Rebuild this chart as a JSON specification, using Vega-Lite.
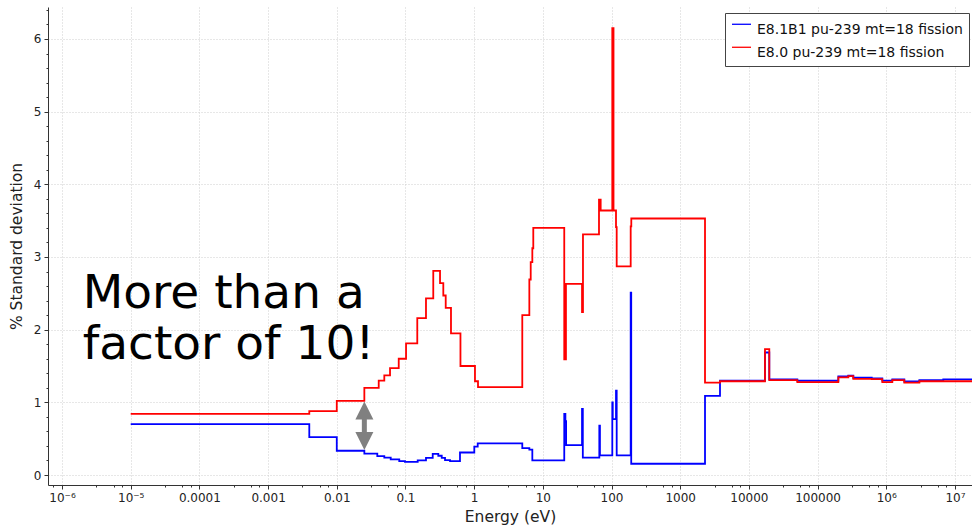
{
  "$schema": "https://vega.github.io/schema/vega-lite/v6.json",
  "width": 924,
  "height": 478,
  "autosize": {"type": "none"},
  "padding": {"left": 48, "top": 7, "right": 0, "bottom": 43},
  "background": "white",
  "config": {"view": {"stroke": null}, "font": "DejaVu Sans"},
  "datasets": {
    "lines": [
      {"E": 1e-5, "v": 0.70, "s": "E8.1B1 pu-239 mt=18 fission"},
      {"E": 0.00398, "v": 0.52, "s": "E8.1B1 pu-239 mt=18 fission"},
      {"E": 0.01, "v": 0.334, "s": "E8.1B1 pu-239 mt=18 fission"},
      {"E": 0.0252, "v": 0.293, "s": "E8.1B1 pu-239 mt=18 fission"},
      {"E": 0.0389, "v": 0.26, "s": "E8.1B1 pu-239 mt=18 fission"},
      {"E": 0.0492, "v": 0.24, "s": "E8.1B1 pu-239 mt=18 fission"},
      {"E": 0.061, "v": 0.215, "s": "E8.1B1 pu-239 mt=18 fission"},
      {"E": 0.0812, "v": 0.19, "s": "E8.1B1 pu-239 mt=18 fission"},
      {"E": 0.0984, "v": 0.18, "s": "E8.1B1 pu-239 mt=18 fission"},
      {"E": 0.1507, "v": 0.20, "s": "E8.1B1 pu-239 mt=18 fission"},
      {"E": 0.199, "v": 0.235, "s": "E8.1B1 pu-239 mt=18 fission"},
      {"E": 0.2494, "v": 0.29, "s": "E8.1B1 pu-239 mt=18 fission"},
      {"E": 0.3006, "v": 0.265, "s": "E8.1B1 pu-239 mt=18 fission"},
      {"E": 0.3373, "v": 0.235, "s": "E8.1B1 pu-239 mt=18 fission"},
      {"E": 0.3767, "v": 0.205, "s": "E8.1B1 pu-239 mt=18 fission"},
      {"E": 0.4457, "v": 0.19, "s": "E8.1B1 pu-239 mt=18 fission"},
      {"E": 0.622, "v": 0.31, "s": "E8.1B1 pu-239 mt=18 fission"},
      {"E": 1.005, "v": 0.39, "s": "E8.1B1 pu-239 mt=18 fission"},
      {"E": 1.127, "v": 0.435, "s": "E8.1B1 pu-239 mt=18 fission"},
      {"E": 5.02, "v": 0.37, "s": "E8.1B1 pu-239 mt=18 fission"},
      {"E": 6.36, "v": 0.35, "s": "E8.1B1 pu-239 mt=18 fission"},
      {"E": 7.03, "v": 0.20, "s": "E8.1B1 pu-239 mt=18 fission"},
      {"E": 20.5, "v": 0.84, "s": "E8.1B1 pu-239 mt=18 fission"},
      {"E": 21.3, "v": 0.74, "s": "E8.1B1 pu-239 mt=18 fission"},
      {"E": 21.8, "v": 0.41, "s": "E8.1B1 pu-239 mt=18 fission"},
      {"E": 37.2, "v": 0.91, "s": "E8.1B1 pu-239 mt=18 fission"},
      {"E": 38.2, "v": 0.24, "s": "E8.1B1 pu-239 mt=18 fission"},
      {"E": 66.4, "v": 0.68, "s": "E8.1B1 pu-239 mt=18 fission"},
      {"E": 67.8, "v": 0.27, "s": "E8.1B1 pu-239 mt=18 fission"},
      {"E": 102.6, "v": 1.00, "s": "E8.1B1 pu-239 mt=18 fission"},
      {"E": 104.2, "v": 0.77, "s": "E8.1B1 pu-239 mt=18 fission"},
      {"E": 116.2, "v": 1.16, "s": "E8.1B1 pu-239 mt=18 fission"},
      {"E": 118.9, "v": 0.27, "s": "E8.1B1 pu-239 mt=18 fission"},
      {"E": 190.1, "v": 2.51, "s": "E8.1B1 pu-239 mt=18 fission"},
      {"E": 193.5, "v": 0.155, "s": "E8.1B1 pu-239 mt=18 fission"},
      {"E": 2296, "v": 1.09, "s": "E8.1B1 pu-239 mt=18 fission"},
      {"E": 3795, "v": 1.297, "s": "E8.1B1 pu-239 mt=18 fission"},
      {"E": 17140, "v": 1.686, "s": "E8.1B1 pu-239 mt=18 fission"},
      {"E": 19810, "v": 1.315, "s": "E8.1B1 pu-239 mt=18 fission"},
      {"E": 50700, "v": 1.297, "s": "E8.1B1 pu-239 mt=18 fission"},
      {"E": 200400, "v": 1.356, "s": "E8.1B1 pu-239 mt=18 fission"},
      {"E": 280000, "v": 1.366, "s": "E8.1B1 pu-239 mt=18 fission"},
      {"E": 331000, "v": 1.338, "s": "E8.1B1 pu-239 mt=18 fission"},
      {"E": 614000, "v": 1.329, "s": "E8.1B1 pu-239 mt=18 fission"},
      {"E": 875000, "v": 1.30, "s": "E8.1B1 pu-239 mt=18 fission"},
      {"E": 1224000, "v": 1.315, "s": "E8.1B1 pu-239 mt=18 fission"},
      {"E": 1830000, "v": 1.287, "s": "E8.1B1 pu-239 mt=18 fission"},
      {"E": 3030000, "v": 1.306, "s": "E8.1B1 pu-239 mt=18 fission"},
      {"E": 6760000, "v": 1.315, "s": "E8.1B1 pu-239 mt=18 fission"},
      {"E": 20000000, "v": 1.315, "s": "E8.1B1 pu-239 mt=18 fission"},
      {"E": 1e-5, "v": 0.84, "s": "E8.0 pu-239 mt=18 fission"},
      {"E": 0.00398, "v": 0.88, "s": "E8.0 pu-239 mt=18 fission"},
      {"E": 0.01, "v": 1.02, "s": "E8.0 pu-239 mt=18 fission"},
      {"E": 0.0252, "v": 1.20, "s": "E8.0 pu-239 mt=18 fission"},
      {"E": 0.0408, "v": 1.30, "s": "E8.0 pu-239 mt=18 fission"},
      {"E": 0.0492, "v": 1.37, "s": "E8.0 pu-239 mt=18 fission"},
      {"E": 0.0596, "v": 1.47, "s": "E8.0 pu-239 mt=18 fission"},
      {"E": 0.0798, "v": 1.60, "s": "E8.0 pu-239 mt=18 fission"},
      {"E": 0.102, "v": 1.81, "s": "E8.0 pu-239 mt=18 fission"},
      {"E": 0.1486, "v": 2.16, "s": "E8.0 pu-239 mt=18 fission"},
      {"E": 0.199, "v": 2.43, "s": "E8.0 pu-239 mt=18 fission"},
      {"E": 0.254, "v": 2.81, "s": "E8.0 pu-239 mt=18 fission"},
      {"E": 0.3186, "v": 2.64, "s": "E8.0 pu-239 mt=18 fission"},
      {"E": 0.3556, "v": 2.47, "s": "E8.0 pu-239 mt=18 fission"},
      {"E": 0.3855, "v": 2.30, "s": "E8.0 pu-239 mt=18 fission"},
      {"E": 0.46, "v": 1.95, "s": "E8.0 pu-239 mt=18 fission"},
      {"E": 0.632, "v": 1.50, "s": "E8.0 pu-239 mt=18 fission"},
      {"E": 1.028, "v": 1.29, "s": "E8.0 pu-239 mt=18 fission"},
      {"E": 1.138, "v": 1.21, "s": "E8.0 pu-239 mt=18 fission"},
      {"E": 5.02, "v": 2.20, "s": "E8.0 pu-239 mt=18 fission"},
      {"E": 6.36, "v": 2.69, "s": "E8.0 pu-239 mt=18 fission"},
      {"E": 6.66, "v": 2.93, "s": "E8.0 pu-239 mt=18 fission"},
      {"E": 7.03, "v": 3.12, "s": "E8.0 pu-239 mt=18 fission"},
      {"E": 7.26, "v": 3.40, "s": "E8.0 pu-239 mt=18 fission"},
      {"E": 20.5, "v": 1.59, "s": "E8.0 pu-239 mt=18 fission"},
      {"E": 21.7, "v": 2.63, "s": "E8.0 pu-239 mt=18 fission"},
      {"E": 37.2, "v": 2.24, "s": "E8.0 pu-239 mt=18 fission"},
      {"E": 38.4, "v": 3.31, "s": "E8.0 pu-239 mt=18 fission"},
      {"E": 65.7, "v": 3.79, "s": "E8.0 pu-239 mt=18 fission"},
      {"E": 69.5, "v": 3.64, "s": "E8.0 pu-239 mt=18 fission"},
      {"E": 102.6, "v": 6.15, "s": "E8.0 pu-239 mt=18 fission"},
      {"E": 106.9, "v": 3.64, "s": "E8.0 pu-239 mt=18 fission"},
      {"E": 116.2, "v": 3.41, "s": "E8.0 pu-239 mt=18 fission"},
      {"E": 118.9, "v": 2.87, "s": "E8.0 pu-239 mt=18 fission"},
      {"E": 190.1, "v": 3.42, "s": "E8.0 pu-239 mt=18 fission"},
      {"E": 194, "v": 3.53, "s": "E8.0 pu-239 mt=18 fission"},
      {"E": 2296, "v": 1.27, "s": "E8.0 pu-239 mt=18 fission"},
      {"E": 3795, "v": 1.29, "s": "E8.0 pu-239 mt=18 fission"},
      {"E": 17140, "v": 1.733, "s": "E8.0 pu-239 mt=18 fission"},
      {"E": 19810, "v": 1.306, "s": "E8.0 pu-239 mt=18 fission"},
      {"E": 50700, "v": 1.279, "s": "E8.0 pu-239 mt=18 fission"},
      {"E": 200400, "v": 1.343, "s": "E8.0 pu-239 mt=18 fission"},
      {"E": 280000, "v": 1.36, "s": "E8.0 pu-239 mt=18 fission"},
      {"E": 331000, "v": 1.324, "s": "E8.0 pu-239 mt=18 fission"},
      {"E": 614000, "v": 1.32, "s": "E8.0 pu-239 mt=18 fission"},
      {"E": 875000, "v": 1.279, "s": "E8.0 pu-239 mt=18 fission"},
      {"E": 1224000, "v": 1.306, "s": "E8.0 pu-239 mt=18 fission"},
      {"E": 1830000, "v": 1.27, "s": "E8.0 pu-239 mt=18 fission"},
      {"E": 3030000, "v": 1.29, "s": "E8.0 pu-239 mt=18 fission"},
      {"E": 6760000, "v": 1.29, "s": "E8.0 pu-239 mt=18 fission"},
      {"E": 20000000, "v": 1.29, "s": "E8.0 pu-239 mt=18 fission"}
    ],
    "arrowShaft": [{"E": 0.0252, "v1": 0.47, "v2": 0.886}],
    "arrowHeads": [{"E": 0.0252, "v": 0.886, "dir": "up"}, {"E": 0.0252, "v": 0.469, "dir": "down"}],
    "note": [{"E": 2.0e-6, "v": 2.30, "t": "More than a\nfactor of 10!"}]
  },
  "layer": [
    {
      "data": {"name": "lines"},
      "mark": {"type": "line", "interpolate": "step-after", "strokeWidth": 1.8, "clip": true},
      "encoding": {
        "x": {
          "field": "E", "type": "quantitative",
          "scale": {"type": "log", "domain": [6.25e-7, 1.77e7], "nice": false},
          "axis": {
            "title": "Energy (eV)",
            "tickCount": 200,
            "values": [7.4989e-7, 1e-6, 3.1623e-6, 5.6234e-6, 7.4989e-6, 1e-5, 3.1623e-5, 5.6234e-5, 7.4989e-5, 1e-4, 3.1623e-4, 5.6234e-4, 7.4989e-4, 1e-3, 3.1623e-3, 5.6234e-3, 7.4989e-3, 0.01, 0.031623, 0.056234, 0.074989, 0.1, 0.31623, 0.56234, 0.74989, 1, 3.1623, 5.6234, 7.4989, 10, 31.623, 56.234, 74.989, 100, 316.23, 562.34, 749.89, 1000, 3162.3, 5623.4, 7498.9, 10000, 31623, 56234, 74989, 100000, 316230, 562340, 749890, 1000000, 3162300, 5623400, 7498900, 10000000],
            "labelExpr": "abs(log(datum.value)/LN10 - round(log(datum.value)/LN10)) > 0.01 ? '' : (round(log(datum.value)/LN10) == -6 ? '10⁻⁶' : round(log(datum.value)/LN10) == -5 ? '10⁻⁵' : round(log(datum.value)/LN10) == 6 ? '10⁶' : round(log(datum.value)/LN10) == 7 ? '10⁷' : '' + datum.value)",
            "grid": true,
            "gridColor": "#cfcfcf",
            "gridDash": [1, 2],
            "gridOpacity": {"condition": {"test": "abs(log(datum.value)/LN10 - round(log(datum.value)/LN10)) < 0.01", "value": 1}, "value": 0},
            "tickSize": {"condition": {"test": "abs(log(datum.value)/LN10 - round(log(datum.value)/LN10)) < 0.01", "value": 4}, "value": 2},
            "tickColor": "#333",
            "domainColor": "#333",
            "labelFontSize": 12,
            "labelColor": "#222",
            "labelPadding": 3,
            "labelFlush": false,
            "labelOverlap": false,
            "titleFontSize": 15.5,
            "titleFontWeight": "normal",
            "titleColor": "#222",
            "titlePadding": 6
          }
        },
        "y": {
          "field": "v", "type": "quantitative",
          "scale": {"domain": [-0.1375, 6.44], "nice": false, "zero": false},
          "axis": {
            "title": "% Standard deviation",
            "tickCount": 200,
            "values": [0, 0.2, 0.4, 0.6, 0.8, 1, 1.2, 1.4, 1.6, 1.8, 2, 2.2, 2.4, 2.6, 2.8, 3, 3.2, 3.4, 3.6, 3.8, 4, 4.2, 4.4, 4.6, 4.8, 5, 5.2, 5.4, 5.6, 5.8, 6, 6.2, 6.4],
            "labelExpr": "abs(datum.value - round(datum.value)) < 0.01 ? format(datum.value, 'd') : ''",
            "grid": true,
            "gridColor": "#cfcfcf",
            "gridDash": [1, 2],
            "gridOpacity": {"condition": {"test": "abs(datum.value - round(datum.value)) < 0.01", "value": 1}, "value": 0},
            "tickSize": {"condition": {"test": "abs(datum.value - round(datum.value)) < 0.01", "value": 4}, "value": 2},
            "tickColor": "#333",
            "domainColor": "#333",
            "labelFontSize": 12,
            "labelColor": "#222",
            "labelPadding": 3,
            "labelFlush": false,
            "labelOverlap": false,
            "titleFontSize": 15.5,
            "titleFontWeight": "normal",
            "titleColor": "#222",
            "titlePadding": 9
          }
        },
        "color": {
          "field": "s", "type": "nominal",
          "scale": {"domain": ["E8.1B1 pu-239 mt=18 fission", "E8.0 pu-239 mt=18 fission"], "range": ["#0000ff", "#ff0000"]},
          "legend": {
            "title": null,
            "orient": "none",
            "legendX": 677,
            "legendY": 6,
            "strokeColor": "#444",
            "fillColor": "white",
            "padding": 6,
            "rowPadding": 5,
            "labelFontSize": 14,
            "labelLimit": 400,
            "labelColor": "#111",
            "labelOffset": 5,
            "symbolType": "M-1,-0.55L1,-0.55",
            "symbolSize": 361,
            "symbolStrokeWidth": 1.3
          }
        }
      }
    },
    {
      "data": {"name": "arrowShaft"},
      "mark": {"type": "rule", "strokeWidth": 5, "color": "#808080"},
      "encoding": {
        "x": {"field": "E", "type": "quantitative"},
        "y": {"field": "v1", "type": "quantitative"},
        "y2": {"field": "v2"}
      }
    },
    {
      "data": {"name": "arrowHeads"},
      "mark": {"type": "point", "filled": true, "size": 324, "color": "#808080", "opacity": 1},
      "encoding": {
        "x": {"field": "E", "type": "quantitative"},
        "y": {"field": "v", "type": "quantitative"},
        "shape": {"field": "dir", "type": "nominal", "scale": {"domain": ["up", "down"], "range": ["M0,-1L1,1L-1,1Z", "M0,1L1,-1L-1,-1Z"]}, "legend": null}
      }
    },
    {
      "data": {"name": "note"},
      "mark": {"type": "text", "align": "left", "baseline": "alphabetic", "fontSize": 47, "lineBreak": "\n", "lineHeight": 51, "font": "DejaVu Sans", "color": "#000"},
      "encoding": {
        "x": {"field": "E", "type": "quantitative"},
        "y": {"field": "v", "type": "quantitative"},
        "text": {"field": "t"}
      }
    }
  ]
}
